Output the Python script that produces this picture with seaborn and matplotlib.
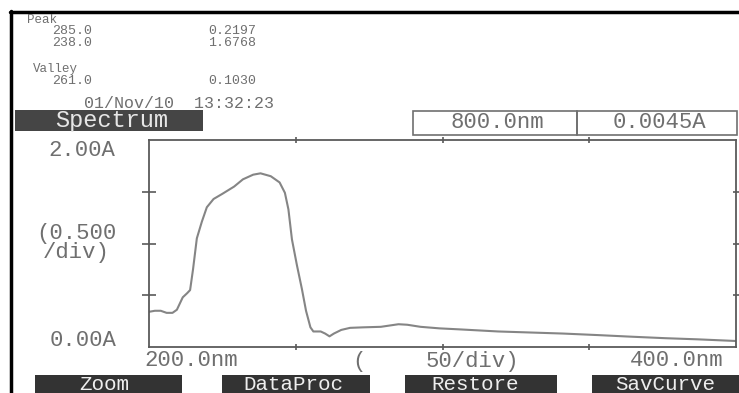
import matplotlib
matplotlib.use("Agg")
import matplotlib.pyplot as plt
import seaborn as sns
import pandas as pd
from matplotlib.patches import Rectangle
from matplotlib.lines import Line2D

# ---------------- data ----------------
wavelength_nm = [200, 202, 204, 206, 208, 209.5, 211.5, 213, 214, 215, 216.3, 218, 219.7,
                 222, 225, 229, 232, 235.5, 238, 241.5, 244.5, 246.3, 247.5, 248.7, 250.4,
                 252.1, 253.5, 255, 256, 258.5, 260, 261.5, 263, 265.5, 268.5, 273, 279,
                 285, 288, 292.5, 299, 306, 319, 330, 341, 353, 364, 376, 387, 400]
absorbance = [0.34, 0.35, 0.35, 0.33, 0.33, 0.36, 0.48, 0.52, 0.55, 0.75, 1.05, 1.21, 1.35,
              1.43, 1.48, 1.55, 1.62, 1.665, 1.678, 1.65, 1.59, 1.49, 1.33, 1.04, 0.79,
              0.56, 0.35, 0.19, 0.15, 0.15, 0.13, 0.103, 0.13, 0.165, 0.185, 0.19, 0.195,
              0.22, 0.215, 0.195, 0.18, 0.17, 0.15, 0.14, 0.13, 0.115, 0.10, 0.085, 0.074, 0.058]

peak_labels = ["285.0", "238.0"]
peak_values = ["0.2197", "1.6768"]
valley_labels = ["261.0"]
valley_values = ["0.1030"]
timestamp = "01/Nov/10  13:32:23"
cursor_readout = ["800.0nm", "0.0045A"]
y_labels = ["2.00A", "(0.500\n/div)", "0.00A"]
x_labels = ["200.0nm", "(", "50/div)", "400.0nm"]
buttons = ["Zoom", "DataProc", "Restore", "SavCurve"]

x_range = (200, 400)
y_range = (0, 2.0)
x_ticks = [250, 300, 350]
y_ticks = [0.5, 1.0, 1.5]

# ---------------- style ----------------
W, H = 739, 393
sns.set_theme(style="white")
plt.rcParams["font.family"] = ["Liberation Mono", "DejaVu Sans Mono"]

fig = plt.figure(figsize=(W / 100, H / 100), dpi=100)
fig.patch.set_facecolor("white")


def fx(x):
    return x / W


def fy(y):
    return 1 - y / H


TXT = "#6f6f6f"
AX = "#5a5a5a"

L, R, T, B = 149, 736, 140, 347
ax = fig.add_axes([fx(L), fy(B), (R - L) / W, (B - T) / H])
df = pd.DataFrame({"nm": wavelength_nm, "A": absorbance})
sns.lineplot(data=df, x="nm", y="A", ax=ax, color="#858585", linewidth=1.5,
             estimator=None, sort=False)
ax.set_xlim(*x_range)
ax.set_ylim(*y_range)
ax.set_xticks(x_ticks)
ax.set_yticks(y_ticks)
ax.set_xticklabels([])
ax.set_yticklabels([])
ax.set_xlabel("")
ax.set_ylabel("")
for s in ax.spines.values():
    s.set_visible(True)
    s.set_color(AX)
    s.set_linewidth(1.3)
ax.tick_params(axis="x", which="major", bottom=True, top=True, direction="inout",
               length=5, width=1.2, color=AX)
ax.tick_params(axis="y", which="major", left=True, right=True, direction="inout",
               length=10, width=1.2, color=AX)
for t in ax.yaxis.get_major_ticks():
    t.tick2line.set_markersize(5)

# ---------------- frame borders ----------------
fig.add_artist(Line2D([fx(11), fx(11)], [fy(11), fy(H)], color="black", linewidth=2.5,
                      transform=fig.transFigure))
fig.add_artist(Line2D([fx(10), fx(W)], [fy(12), fy(12)], color="black", linewidth=2.5,
                      transform=fig.transFigure))

# ---------------- header texts ----------------
small = 9
fig.text(fx(42), fy(20), "Peak", fontsize=small, color=TXT, ha="center", va="center")
for i, (lab, val) in enumerate(zip(peak_labels, peak_values)):
    yy = 31.5 + 11.5 * i
    fig.text(fx(72), fy(yy), lab, fontsize=small + 0.5, color=TXT, ha="center", va="center")
    fig.text(fx(232), fy(yy), val, fontsize=small + 0.5, color=TXT, ha="center", va="center")
fig.text(fx(55), fy(69), "Valley", fontsize=small, color=TXT, ha="center", va="center")
for lab, val in zip(valley_labels, valley_values):
    fig.text(fx(72), fy(81), lab, fontsize=small + 0.5, color=TXT, ha="center", va="center")
    fig.text(fx(232), fy(81), val, fontsize=small + 0.5, color=TXT, ha="center", va="center")
fig.text(fx(179), fy(104), timestamp, fontsize=12, color=TXT, ha="center", va="center")

# Spectrum label bar
fig.add_artist(Rectangle((fx(15), fy(131)), (203 - 15) / W, (131 - 110) / H,
                         transform=fig.transFigure, facecolor="#454545", edgecolor="none"))
fig.text(fx(112), fy(121), "Spectrum", fontsize=17, color="#e6e6e6", ha="center", va="center")

# cursor readout boxes
for (x0, x1), txt in zip([(413, 577), (577, 737)], cursor_readout):
    fig.add_artist(Rectangle((fx(x0), fy(135)), (x1 - x0) / W, (135 - 111) / H,
                             transform=fig.transFigure, facecolor="none",
                             edgecolor="#707070", linewidth=1.2))
    fig.text(fx((x0 + x1) / 2 + 2), fy(123), txt, fontsize=16, color=TXT,
             ha="center", va="center")

# axis labels
fig.text(fx(82), fy(151), y_labels[0], fontsize=16, color=TXT, ha="center", va="center")
fig.text(fx(76), fy(243), y_labels[1], fontsize=16, color=TXT, ha="center", va="center",
         linespacing=0.9)
fig.text(fx(83), fy(340), y_labels[2], fontsize=16, color=TXT, ha="center", va="center")
fig.text(fx(191), fy(361), x_labels[0], fontsize=16, color=TXT, ha="center", va="center")
fig.text(fx(359), fy(361), x_labels[1], fontsize=16, color=TXT, ha="center", va="center")
fig.text(fx(472), fy(361), x_labels[2], fontsize=16, color=TXT, ha="center", va="center")
fig.text(fx(677), fy(361), x_labels[3], fontsize=16, color=TXT, ha="center", va="center")

# soft-key buttons
for (x0, x1, cx), txt in zip([(35, 182, 104), (222, 370, 293), (405, 557, 475), (592, 739, 665)],
                             buttons):
    fig.add_artist(Rectangle((fx(x0), fy(H + 2)), (x1 - x0) / W, (H + 2 - 375) / H,
                             transform=fig.transFigure, facecolor="#333333",
                             edgecolor="none"))
    fig.text(fx(cx), fy(384), txt, fontsize=15, color="#eeeeee", ha="center", va="center")

fig.savefig("out.png", dpi=100)
